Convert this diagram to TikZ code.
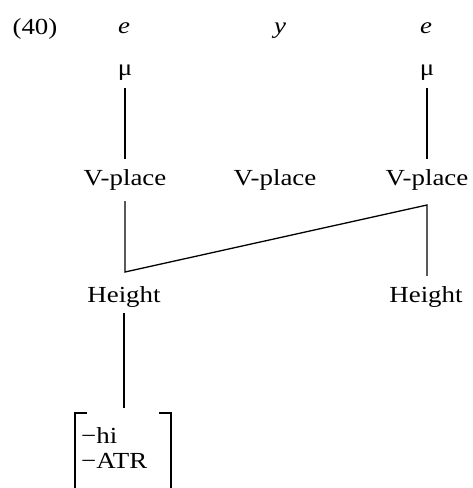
\documentclass[tikz,border=0pt]{standalone}
\usepackage{fontspec}
\setmainfont[FakeStretch=1.17]{Liberation Serif}
\begin{document}
\begin{tikzpicture}[x=1pt,y=-1pt,
  lbl/.style={anchor=base,inner sep=0pt,font=\fontsize{23}{27}\selectfont},
  ln/.style={line width=1.3pt},
  brk/.style={line width=2.8pt}]
\useasboundingbox (0,0) rectangle (472,488);
\clip (0,0) rectangle (472,488);
\node[lbl] (n40) at (35,34) {(40)};
\node[lbl] (e1) at (124,33) {\itshape e};
\node[lbl] (yy) at (280,33) {\itshape y};
\node[lbl] (e2) at (426,33) {\itshape e};
\node[lbl] (mu1) at (125,75) {μ};
\node[lbl] (mu2) at (427,75) {μ};
\node[lbl] (vp1) at (125,185) {V-place};
\node[lbl] (vp2) at (275,185) {V-place};
\node[lbl] (vp3) at (427,185) {V-place};
\node[lbl] (h1) at (124,302) {Height};
\node[lbl] (h2) at (426,302) {Height};
\node[lbl,anchor=base west] (hi) at (81,443) {−hi};
\node[lbl,anchor=base west] (atr) at (81,468) {−ATR};
\coordinate (c) at (125,272);
\coordinate (d) at (427,205);
\coordinate (top) at (124,408);
\draw[ln,shorten <=8pt,shorten >=10pt] (mu1.south) -- (mu1.south |- vp1.north);
\draw[ln,shorten <=8pt,shorten >=10pt] (mu2.south) -- (mu2.south |- vp3.north);
\draw[ln,shorten <=11pt,shorten >=10pt] (vp1.south) -- (c) -- (d) -- (h2.north -| d);
\draw[ln,shorten <=6pt] (h1.south) -- (top);
\draw[brk] (87,413) -- (75,413) -- (75,500);
\draw[brk] (159,413) -- (171,413) -- (171,500);
\end{tikzpicture}
\end{document}
